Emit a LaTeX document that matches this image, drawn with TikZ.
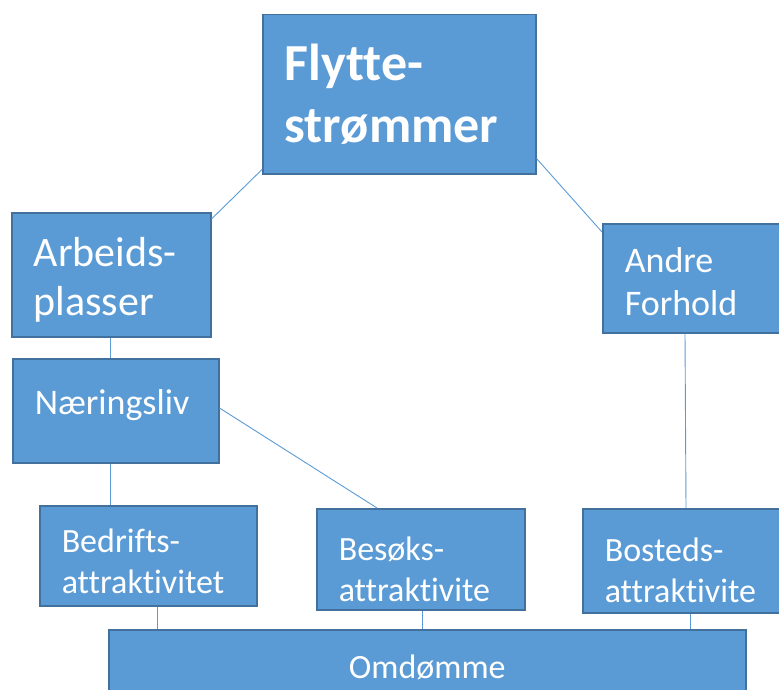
\documentclass[tikz,border=0pt]{standalone}
\usepackage{fontspec}
\setmainfont{Carlito}[Ligatures={NoCommon}]
\usetikzlibrary{calc}
\definecolor{boxfill}{HTML}{5B9BD5}
\definecolor{boxline}{HTML}{41719C}
\definecolor{conn}{HTML}{5B9BD5}
\newcommand{\tallstrut}[1]{\rule{0pt}{#1}}
\newcommand{\deepstrut}[1]{\rule[-#1]{0pt}{#1}}
\tikzset{
  bx/.style={draw=boxline, fill=boxfill, line width=1.5pt, text=white, align=left,
    anchor=north west, inner xsep=22pt, inner ysep=0pt},
  cn/.style={draw=conn, line width=0.9pt},
}
\begin{document}
\begin{tikzpicture}[x=1pt,y=-1pt]
\useasboundingbox (0,0) rectangle (779,690);
\clip (0,0) rectangle (779,690);
\node[bx, text width=229pt, minimum height=159pt, font=\fontsize{52}{62}\selectfont\bfseries] (fly) at (262,14) {Flytte-\\strømmer};
\node[bx, text width=155pt, minimum height=124pt, font=\fontsize{42}{49}\selectfont] (arb) at (11,212) {\tallstrut{40pt}Arbeids-\\plasser};
\node[bx, text width=146pt, minimum height=109pt, font=\fontsize{36}{43}\selectfont] (and) at (602,223) {\tallstrut{32pt}Andre\\Forhold};
\node[bx, text width=162pt, minimum height=104pt, font=\fontsize{36}{43}\selectfont] (nar) at (12,358) {Næringsliv\deepstrut{18pt}};
\node[bx, text width=173pt, minimum height=100pt, font=\fontsize{34}{41}\selectfont] (bed) at (39,505) {\tallstrut{34pt}Bedrifts-\\attraktivitet};
\node[bx, text width=164pt, minimum height=101pt, font=\fontsize{34}{41}\selectfont] (bes) at (316,508) {\tallstrut{44pt}Besøks-\\attraktivite};
\node[bx, text width=166pt, minimum height=104pt, font=\fontsize{34}{41}\selectfont] (bos) at (582,508) {\tallstrut{42pt}Bosteds-\\attraktivite};
\node[bx, align=center, inner xsep=0pt, text width=637pt, minimum height=76pt, font=\fontsize{34}{41}\selectfont] (omd) at (108,629) {Omdømme};
\draw[cn] ($(fly.south west)+(0,-5)$) -- ($(arb.north east)+(0,7)$);
\draw[cn] ($(fly.south east)+(0,-16)$) -- ($(and.north west)+(0,9)$);
\draw[cn] ($(arb.south west)+(99,0)$) coordinate (a1) -- (a1 |- nar.north);
\draw[cn] ($(nar.south west)+(98,0)$) coordinate (a2) -- (a2 |- bed.north);
\draw[cn] ($(nar.north east)+(0,50)$) -- ($(bes.north west)+(61,0)$);
\draw[cn] ($(and.south west)+(83,0)$) -- ($(bos.north west)+(104,0)$);
\draw[cn] ($(bed.south west)+(118,0)$) coordinate (a3) -- (a3 |- omd.north);
\draw[cn] ($(bes.south west)+(106,0)$) coordinate (a4) -- (a4 |- omd.north);
\draw[cn] ($(bos.south west)+(108,0)$) coordinate (a5) -- (a5 |- omd.north);
\end{tikzpicture}
\end{document}
